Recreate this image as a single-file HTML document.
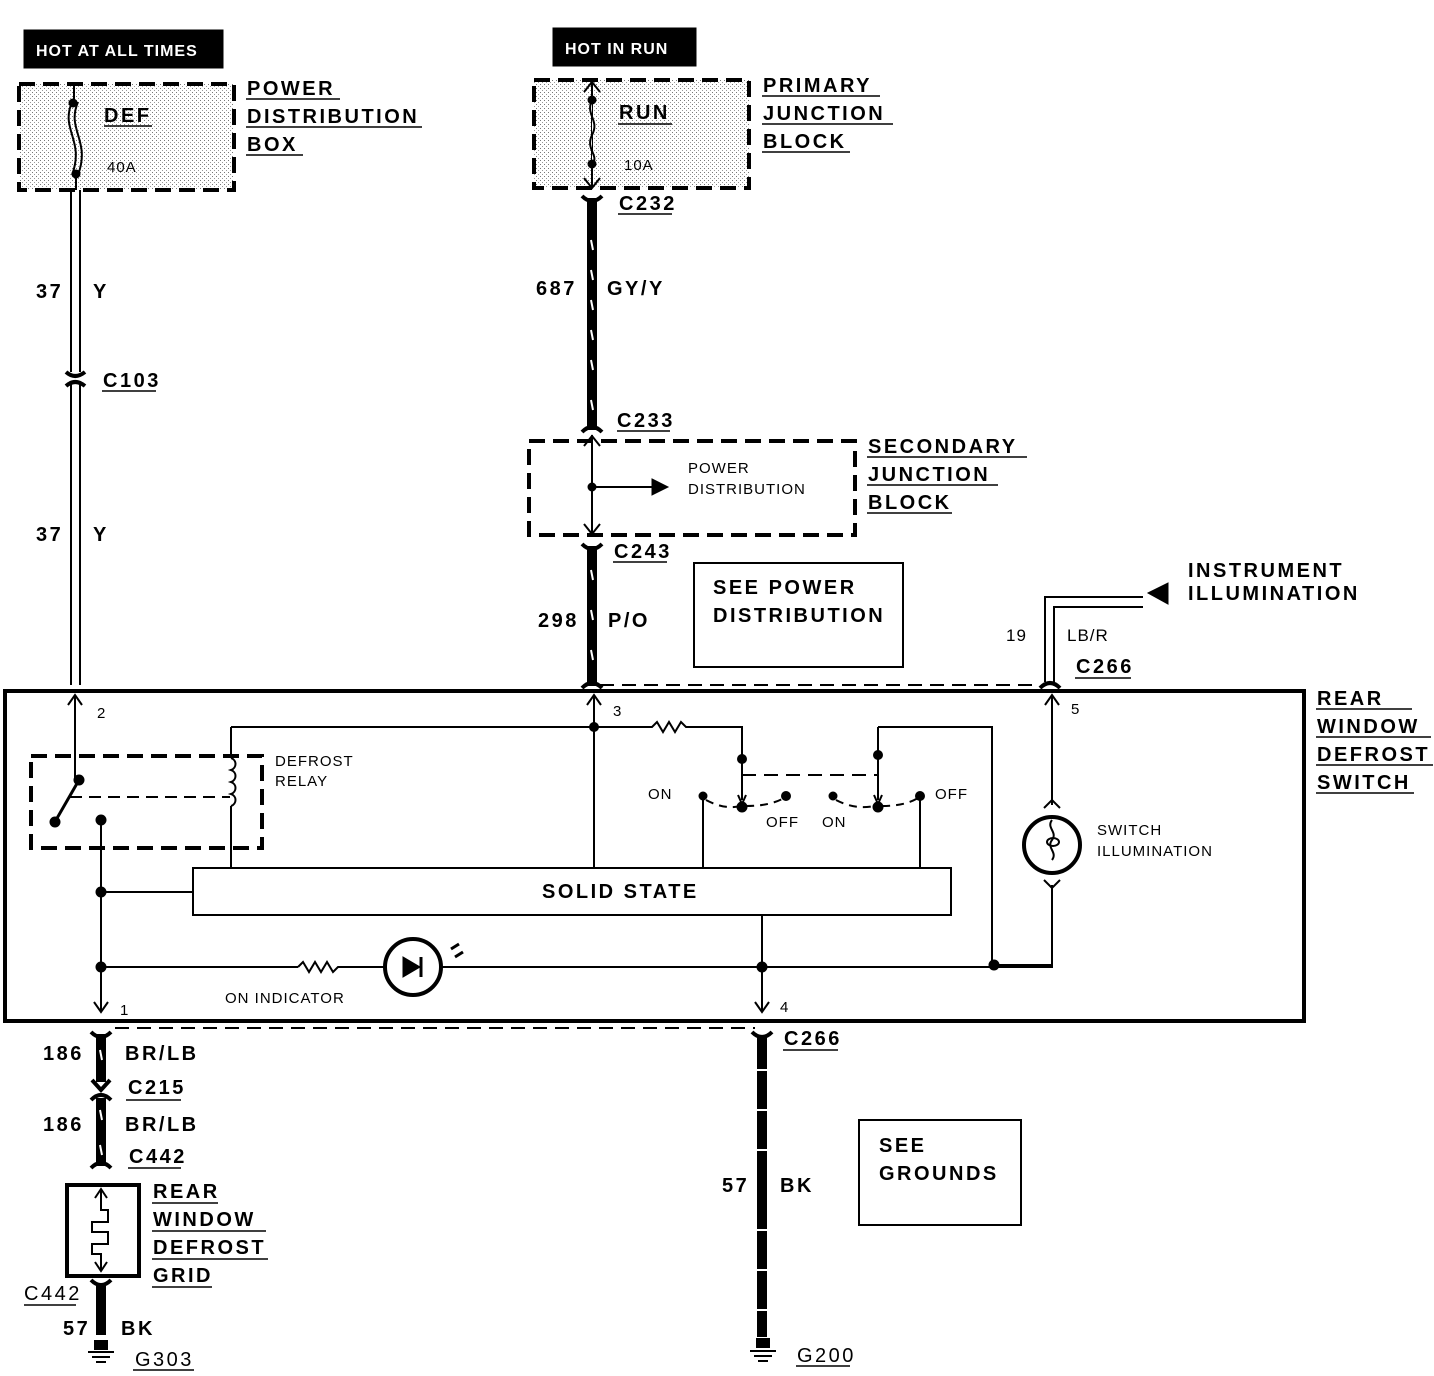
<!DOCTYPE html>
<html><head><meta charset="utf-8"><style>
html,body{margin:0;padding:0;background:#fff}
svg{display:block}
text{font-family:"Liberation Sans",sans-serif;fill:#000}
.L{font-size:20px;font-weight:bold;letter-spacing:2.5px}
.S{font-size:15px;letter-spacing:1px}
.W{fill:#fff;font-size:16px;font-weight:bold;letter-spacing:1px}
</style></head><body>
<svg width="1434" height="1376" viewBox="0 0 1434 1376" xmlns="http://www.w3.org/2000/svg">
<defs>
<pattern id="st" width="4" height="4" patternUnits="userSpaceOnUse"><rect width="4" height="4" fill="#fff"/><rect width="1" height="1" fill="#777"/><rect x="2" y="2" width="1" height="1" fill="#999"/></pattern>
</defs>
<g stroke="#000" fill="none">
<rect x="24" y="30" width="199" height="38" fill="#000"/>
<rect x="553" y="28" width="143" height="38" fill="#000"/>
<rect x="19" y="84" width="215" height="106" fill="url(#st)" stroke-width="4" stroke-dasharray="16,8"/>
<path d="M74 84 V102 M76 175 V190" stroke-width="2"/>
<path d="M72 102 C60 130 85 140 72 175 M78 102 C66 130 91 140 78 175" stroke-width="2"/>
<circle cx="73" cy="103" r="4" fill="#000"/><circle cx="76" cy="174" r="4" fill="#000"/>
<path d="M71 190 V372 M80 190 V372 M71 384 V685 M80 384 V685" stroke-width="2"/>
<path d="M66 372 Q75 380 85 372 M66 386 Q75 378 85 386" stroke-width="4"/>
<rect x="534" y="80" width="215" height="108" fill="url(#st)" stroke-width="4" stroke-dasharray="16,8"/>
<path d="M592 80 V188 M584 92 L592 82 L600 92 M584 178 L592 188 L600 178" stroke-width="2"/>
<path d="M592 100 C585 115 600 120 592 135 C585 150 600 155 592 165" stroke-width="2" fill="#fff"/>
<circle cx="592" cy="100" r="4" fill="#000"/><circle cx="592" cy="164" r="4" fill="#000"/>
<path d="M592 198 V430" stroke-width="10"/>
<path d="M582 196 Q592 206 602 196 M582 432 Q592 422 602 432" stroke-width="4"/>
<g stroke="#fff" stroke-width="2"><path d="M591 240 l2 10 M591 300 l2 10 M591 360 l2 10 M591 400 l2 10 M591 270 l2 10 M591 330 l2 10"/></g>
<rect x="529" y="441" width="326" height="94" stroke-width="4" stroke-dasharray="16,8"/>
<path d="M592 435 V535 M584 446 L592 436 L600 446 M584 524 L592 534 L600 524 M592 487 H655" stroke-width="2"/>
<polygon points="652,479 668,487 652,495" fill="#000"/>
<circle cx="592" cy="487" r="4" fill="#000"/>
<path d="M592 546 V686" stroke-width="10"/>
<path d="M582 544 Q592 554 602 544 M582 688 Q592 678 602 688" stroke-width="4"/>
<g stroke="#fff" stroke-width="2"><path d="M591 570 l2 10 M591 610 l2 10 M591 650 l2 10"/></g>
<rect x="694" y="563" width="209" height="104" stroke-width="2"/>
<path d="M1045 682 V597 H1143 M1054 682 V607 H1143" stroke-width="2"/>
<polygon points="1148,593 1168,583 1168,604" fill="#000"/>
<path d="M1040 688 Q1050 678 1060 688" stroke-width="4"/>
<path d="M600 685 H1040" stroke-width="2" stroke-dasharray="14,8"/>
<rect x="5" y="691" width="1299" height="330" stroke-width="4"/>
<path d="M75 695 V780 M68 705 L75 695 L82 705" stroke-width="2"/>
<rect x="31" y="756" width="231" height="92" stroke-width="4" stroke-dasharray="16,8"/>
<circle cx="79" cy="780" r="5" fill="#000"/>
<path d="M79 780 L56 820" stroke-width="3"/>
<circle cx="55" cy="822" r="5" fill="#000"/><circle cx="101" cy="820" r="5" fill="#000"/>
<path d="M70 797 H230" stroke-width="2" stroke-dasharray="12,7"/>
<path d="M231 727 V758 M231 758 c6 2 6 10 0 12 c6 2 6 10 0 12 c6 2 6 10 0 12 c6 2 6 10 0 12 M231 806 V868" stroke-width="2"/>
<path d="M231 727 H594 M594 695 V868 M587 705 L594 695 L601 705" stroke-width="2"/>
<circle cx="594" cy="727" r="4.5" fill="#000"/>
<path d="M101 820 V1012 M94 1002 L101 1012 L108 1002 M101 892 H193 M101 967 H298" stroke-width="2"/>
<circle cx="101" cy="892" r="5" fill="#000"/><circle cx="101" cy="967" r="5" fill="#000"/>
<rect x="193" y="868" width="758" height="47" stroke-width="2"/>
<path d="M298 967 l5 -5 l6 10 l6 -10 l6 10 l6 -10 l6 10 l5 -5 H385" stroke-width="2"/>
<circle cx="413" cy="967" r="28" stroke-width="4"/>
<path d="M441 967 H1052 V885" stroke-width="2"/>
<polygon points="403,957 403,977 420,967" fill="#000"/><path d="M421 957 V977" stroke-width="3"/>
<path d="M451 949 l8 -5 M455 957 l8 -5" stroke-width="3"/>
<circle cx="762" cy="967" r="5" fill="#000"/><circle cx="994" cy="965" r="5" fill="#000"/>
<path d="M762 915 V1012 M755 1002 L762 1012 L769 1002" stroke-width="2"/>
<path d="M594 727 H652 l5 -5 l6 10 l6 -10 l6 10 l6 -10 l5 5 H742 V800" stroke-width="2"/>
<circle cx="742" cy="759" r="4.5" fill="#000"/><circle cx="742" cy="807" r="5" fill="#000"/>
<path d="M878 727 V800 M878 727 H992 V965 H1052" stroke-width="2"/>
<path d="M742 775 H878" stroke-width="2" stroke-dasharray="14,8"/>
<circle cx="878" cy="755" r="4.5" fill="#000"/><circle cx="878" cy="807" r="5" fill="#000"/>
<path d="M738 795 L742 804 L746 795 M874 795 L878 804 L882 795" stroke-width="2"/>
<circle cx="703" cy="796" r="4" fill="#000"/><circle cx="786" cy="796" r="4.5" fill="#000"/>
<circle cx="833" cy="796" r="4" fill="#000"/><circle cx="920" cy="796" r="4.5" fill="#000"/>
<path d="M706 800 Q725 810 740 806 M746 806 Q770 806 784 798 M836 800 Q855 810 874 806 M882 806 Q905 806 918 798" stroke-width="2" stroke-dasharray="8,6"/>
<path d="M703 800 V868 M920 800 V868" stroke-width="2"/>
<path d="M1052 695 V805 M1045 705 L1052 695 L1059 705 M1044 808 L1052 800 L1060 808 M1044 880 L1052 888 L1060 880" stroke-width="2"/>
<circle cx="1052" cy="845" r="28" stroke-width="4"/>
<path d="M1052 820 c-6 8 6 12 0 20 c-6 8 6 12 0 20" stroke-width="2"/>
<ellipse cx="1053" cy="842" rx="6" ry="4" stroke-width="2"/>
<path d="M115 1028 H755" stroke-width="2" stroke-dasharray="14,8"/>
<path d="M101 1034 V1082" stroke-width="10"/>
<path d="M91 1032 Q101 1042 111 1032 M92 1080 L101 1090 L110 1080 M91 1100 Q101 1090 111 1100 M91 1168 Q101 1158 111 1168" stroke-width="4"/>
<path d="M101 1098 V1166" stroke-width="10"/>
<g stroke="#fff" stroke-width="2"><path d="M100 1050 l2 10 M100 1110 l2 10 M100 1145 l2 10"/></g>
<rect x="67" y="1185" width="72" height="91" stroke-width="4"/>
<path d="M101 1190 V1210 H108 V1222 H92 V1232 H108 V1244 H92 V1254 H101 V1270 M95 1198 L101 1189 L107 1198 M95 1262 L101 1271 L107 1262" stroke-width="2"/>
<path d="M91 1280 Q101 1290 111 1280" stroke-width="4"/>
<path d="M101 1284 V1335" stroke-width="10"/>
<rect x="94" y="1340" width="14" height="10" fill="#000" stroke="none"/>
<path d="M88 1352 H114 M92 1357 H110 M96 1362 H106" stroke-width="2"/>
<path d="M752 1032 Q762 1042 772 1032" stroke-width="4"/>
<path d="M762 1036 V1337" stroke-width="10"/>
<g stroke="#fff" stroke-width="2"><path d="M756 1070 h12 M756 1110 h12 M756 1150 h12 M756 1230 h12 M756 1270 h12 M756 1310 h12"/></g>
<rect x="756" y="1338" width="14" height="10" fill="#000" stroke="none"/>
<path d="M750 1351 H776 M754 1356 H772 M758 1361 H768" stroke-width="2"/>
<rect x="859" y="1120" width="162" height="105" stroke-width="2"/>
<path d="M246 99 H340 M246 127 H422 M246 155 H303 M104 126 H152 M762 96 H880 M762 124 H893 M762 152 H850 M618 124 H672 M618 214 H672 M102 391 H156 M617 431 H670 M867 457 H1027 M867 485 H998 M867 513 H952 M613 562 H667 M1075 678 H1131 M1316 709 H1412 M1316 737 H1431 M1316 765 H1433 M1316 793 H1414 M783 1050 H838 M126 1100 H181 M128 1168 H181 M152 1203 H218 M152 1231 H266 M152 1259 H268 M152 1287 H212 M24 1305 H76 M133 1370 H194 M796 1366 H850" stroke-width="1.5"/>
</g>
<g>
<text x="36" y="56" class="W">HOT AT ALL TIMES</text>
<text x="565" y="54" class="W">HOT IN RUN</text>
<text x="247" y="95" class="L">POWER</text>
<text x="247" y="123" class="L">DISTRIBUTION</text>
<text x="247" y="151" class="L">BOX</text>
<text x="104" y="122" class="L">DEF</text>
<text x="107" y="172" class="S">40A</text>
<text x="619" y="119" class="L">RUN</text>
<text x="624" y="170" class="S">10A</text>
<text x="763" y="92" class="L">PRIMARY</text>
<text x="763" y="120" class="L">JUNCTION</text>
<text x="763" y="148" class="L">BLOCK</text>
<text x="619" y="210" class="L">C232</text>
<text x="36" y="298" class="L">37</text><text x="93" y="298" class="L">Y</text>
<text x="536" y="295" class="L">687</text><text x="607" y="295" class="L">GY/Y</text>
<text x="103" y="387" class="L">C103</text>
<text x="617" y="427" class="L">C233</text>
<text x="868" y="453" class="L">SECONDARY</text>
<text x="868" y="481" class="L">JUNCTION</text>
<text x="868" y="509" class="L">BLOCK</text>
<text x="688" y="473" class="S">POWER</text>
<text x="688" y="494" class="S">DISTRIBUTION</text>
<text x="36" y="541" class="L">37</text><text x="93" y="541" class="L">Y</text>
<text x="614" y="558" class="L">C243</text>
<text x="713" y="594" class="L">SEE POWER</text>
<text x="713" y="622" class="L">DISTRIBUTION</text>
<text x="538" y="627" class="L">298</text><text x="608" y="627" class="L">P/O</text>
<text x="1188" y="577" class="L">INSTRUMENT</text>
<text x="1188" y="600" class="L">ILLUMINATION</text>
<text x="1006" y="641" class="S" style="font-size:17px">19</text>
<text x="1067" y="641" class="S" style="font-size:17px">LB/R</text>
<text x="1076" y="673" class="L">C266</text>
<text x="1317" y="705" class="L">REAR</text>
<text x="1317" y="733" class="L">WINDOW</text>
<text x="1317" y="761" class="L">DEFROST</text>
<text x="1317" y="789" class="L">SWITCH</text>
<text x="97" y="718" class="S">2</text>
<text x="613" y="716" class="S">3</text>
<text x="1071" y="714" class="S">5</text>
<text x="275" y="766" class="S">DEFROST</text>
<text x="275" y="786" class="S">RELAY</text>
<text x="648" y="799" class="S">ON</text>
<text x="935" y="799" class="S">OFF</text>
<text x="766" y="827" class="S">OFF</text>
<text x="822" y="827" class="S">ON</text>
<text x="1097" y="835" class="S">SWITCH</text>
<text x="1097" y="856" class="S">ILLUMINATION</text>
<text x="542" y="898" class="L">SOLID STATE</text>
<text x="225" y="1003" class="S">ON INDICATOR</text>
<text x="120" y="1015" class="S">1</text>
<text x="780" y="1012" class="S">4</text>
<text x="784" y="1045" class="L">C266</text>
<text x="43" y="1060" class="L">186</text><text x="125" y="1060" class="L">BR/LB</text>
<text x="128" y="1094" class="L">C215</text>
<text x="43" y="1131" class="L">186</text><text x="125" y="1131" class="L">BR/LB</text>
<text x="129" y="1163" class="L">C442</text>
<text x="153" y="1198" class="L">REAR</text>
<text x="153" y="1226" class="L">WINDOW</text>
<text x="153" y="1254" class="L">DEFROST</text>
<text x="153" y="1282" class="L">GRID</text>
<text x="879" y="1152" class="L">SEE</text>
<text x="879" y="1180" class="L">GROUNDS</text>
<text x="722" y="1192" class="L">57</text><text x="780" y="1192" class="L">BK</text>
<text x="24" y="1300" class="L" style="font-weight:normal">C442</text>
<text x="63" y="1335" class="L">57</text><text x="121" y="1335" class="L">BK</text>
<text x="135" y="1366" class="L" style="font-weight:normal">G303</text>
<text x="797" y="1362" class="L" style="font-weight:normal">G200</text>
</g>
</svg>
</body></html>
